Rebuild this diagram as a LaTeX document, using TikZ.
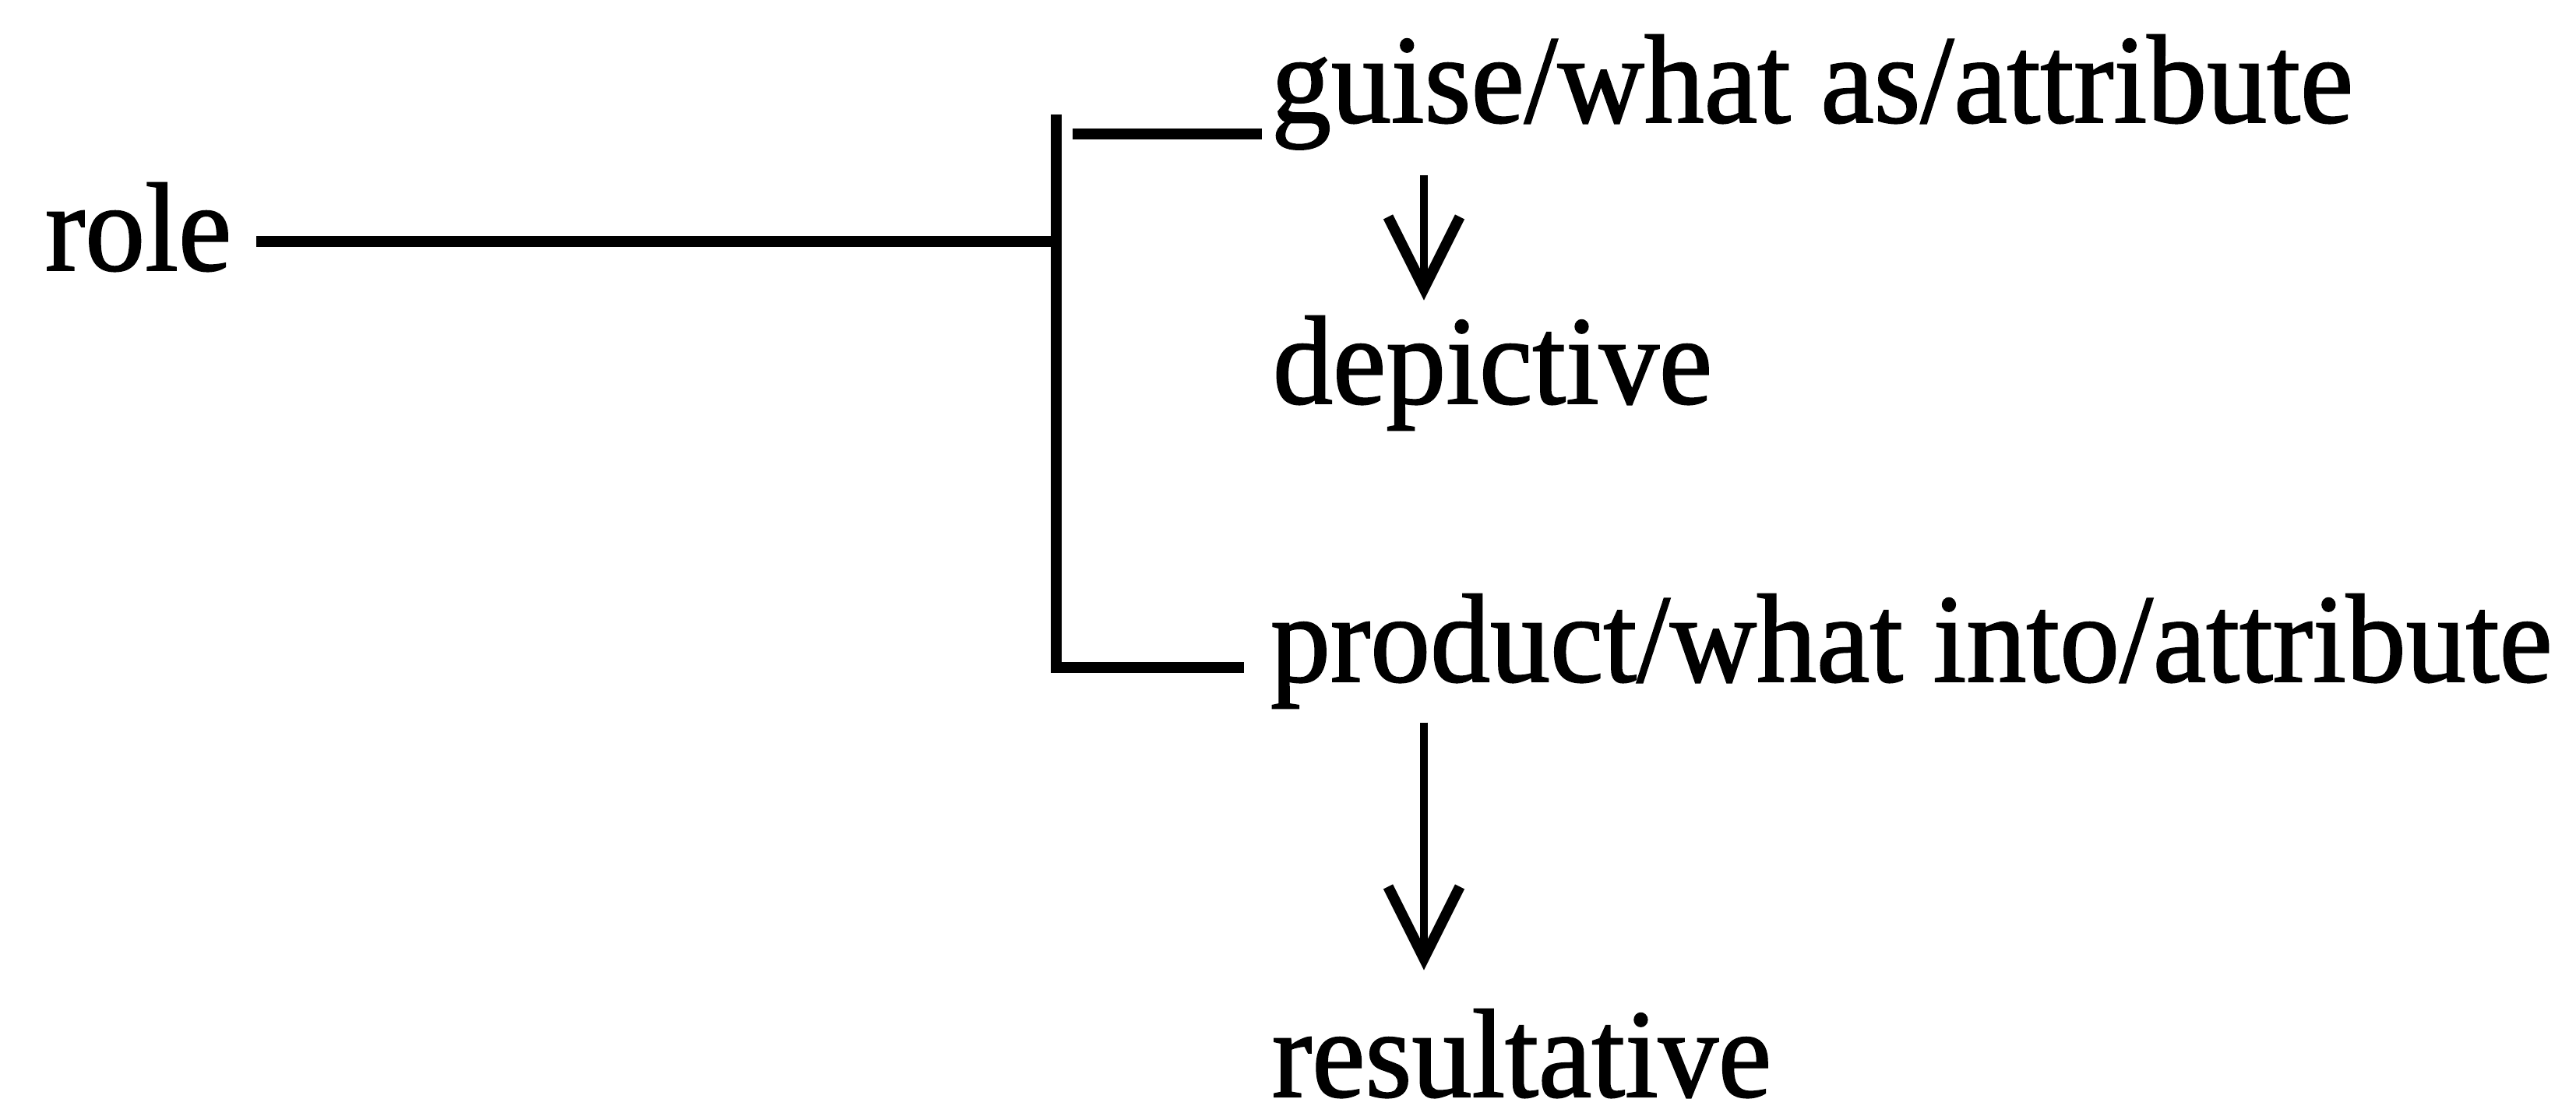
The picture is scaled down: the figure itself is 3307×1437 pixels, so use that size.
\documentclass[tikz,border=0pt]{standalone}
\usepackage{fontspec}
\setmainfont{Liberation Serif}[FakeStretch=0.95,FakeBold=1.2]
\usetikzlibrary{arrows.meta}
\begin{document}
\begin{tikzpicture}[x=0.25pt,y=-0.25pt,
  lbl/.style={anchor=base west, inner sep=0pt, outer sep=0pt,
              font=\fontsize{40.5}{48}\selectfont},
  tree/.style={line width=3.4pt, line join=miter},
  flow/.style={line width=2.6pt,
               -{Straight Barb[length=23pt,width=23pt,line width=3.4pt]}}]
\useasboundingbox (0,0) rectangle (3307,1437);

% labels
\node[lbl] (role)        at (58,347)   {role};
\node[lbl] (guise)       at (1632,157) {guise/what as/attribute};
\node[lbl] (depictive)   at (1634,518) {depictive};
\node[lbl] (product)     at (1631,875) {product/what into/attribute};
\node[lbl] (resultative) at (1633,1408) {resultative};

% bracket points
\coordinate (jtop) at (1356,147);
\coordinate (jmid) at (1356,310);
\coordinate (jbot) at (1356,857);
\coordinate (tb)   at (1377,172);
\coordinate (ax)   at (1828,0);

% bracket
\draw[tree, shorten <=8pt] (role.east |- jmid) -- (jmid);
\draw[tree, shorten >=8.5pt] (jtop) -- (jbot) -- (product.west |- jbot);
\draw[tree, shorten >=3pt] (tb) -- (guise.west |- tb);

% derivation arrows
\draw[flow, shorten <=8.25pt, shorten >=5pt]
  (ax |- guise.south) -- (ax |- depictive.north);
\draw[flow, shorten <=4.5pt, shorten >=12.5pt]
  (ax |- product.south) -- (ax |- resultative.north);
\end{tikzpicture}
\end{document}
